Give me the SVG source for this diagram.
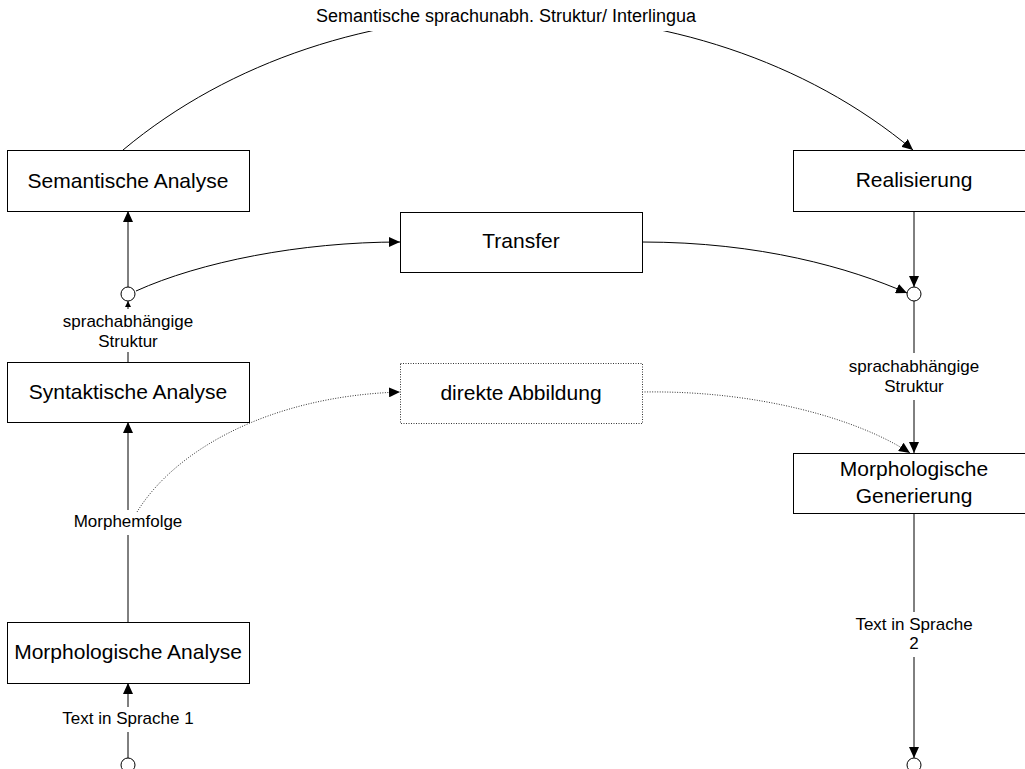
<svg xmlns="http://www.w3.org/2000/svg" width="1025" height="769" viewBox="0 0 1025 769">
<style>
.box{fill:#fff;stroke:#000;stroke-width:1}
.dbox{fill:#fff;stroke:#333;stroke-width:1;stroke-dasharray:1 1.5}
.t{font-family:"Liberation Sans",Arial,sans-serif;font-size:21px;fill:#000;text-anchor:middle}
.lbl{font-family:"Liberation Sans",Arial,sans-serif;font-size:17px;fill:#000;text-anchor:middle}
.c{fill:none;stroke:#000;stroke-width:1}
.d{fill:none;stroke:#333;stroke-width:1;stroke-dasharray:1 1.5}
.circ{fill:#fff;stroke:#000;stroke-width:1}
</style>
<defs>
<marker id="arr" viewBox="0 0 11 10" refX="11" refY="5" markerWidth="11" markerHeight="10" markerUnits="userSpaceOnUse" orient="auto"><path d="M0,0 L11,5 L0,10 z" fill="#000"/></marker>
<marker id="arrs" viewBox="0 0 6 6" refX="6" refY="3" markerWidth="6" markerHeight="6" markerUnits="userSpaceOnUse" orient="auto"><path d="M0,0 L6,3 L0,6 z" fill="#000"/></marker>
</defs>
<rect width="1025" height="769" fill="#fff"/>
<g id="connectors">
<path class="c" d="M123,150 C338,-30 698,-30 913,150" marker-end="url(#arr)"/>
<rect x="311" y="4" width="392" height="27" fill="#fff"/>
<text class="lbl" x="506" y="22" style="font-size:18px">Semantische sprachunabh. Struktur/ Interlingua</text>
<path class="c" d="M128,287 V211" marker-end="url(#arr)"/>
<path class="c" d="M128,362 V352 M128,309 V301" marker-end="url(#arrs)"/>
<text class="lbl" x="128" y="327">sprachabhängige</text>
<text class="lbl" x="128" y="347">Struktur</text>
<path class="c" d="M128,622 V535 M128,510 V422" marker-end="url(#arr)"/>
<path class="c" d="M128,758 V732 M128,707 V683" marker-end="url(#arr)"/>
<text class="lbl" x="128" y="724">Text in Sprache 1</text>
<path class="c" d="M136,291 C200,262 300,242 400,242" marker-end="url(#arr)"/>
<path class="c" d="M642,242 C760,242 850,268 907,293" marker-end="url(#arr)"/>
<path class="c" d="M914,211 V287" marker-end="url(#arr)"/>
<path class="c" d="M914,301 V353 M914,400 V453" marker-end="url(#arr)"/>
<text class="lbl" x="914" y="372">sprachabhängige</text>
<text class="lbl" x="914" y="392">Struktur</text>
<path class="c" d="M914,513 V612 M914,657 V758" marker-end="url(#arr)"/>
<text class="lbl" x="914" y="630">Text in Sprache</text>
<text class="lbl" x="914" y="649">2</text>
<path class="d" d="M137,512 C175,450 270,396 400,392" marker-end="url(#arr)"/>
<path class="d" d="M642,392 C760,390 860,420 910,453" marker-end="url(#arr)"/>
<text class="lbl" x="128" y="527">Morphemfolge</text>
</g>
<g id="circle-mid-left"><circle class="circ" cx="128" cy="294" r="7"/></g>
<g id="circle-mid-right"><circle class="circ" cx="914" cy="294" r="7"/></g>
<g id="circle-bottom-left"><circle class="circ" cx="128" cy="765" r="7"/></g>
<g id="circle-bottom-right"><circle class="circ" cx="914" cy="765" r="7"/></g>
<g id="semantische-analyse"><rect class="box" x="7.5" y="150.5" width="242" height="61"/><text class="t" x="128" y="188">Semantische Analyse</text></g>
<g id="syntaktische-analyse"><rect class="box" x="7.5" y="362.5" width="242" height="60"/><text class="t" x="128" y="399">Syntaktische Analyse</text></g>
<g id="morphologische-analyse"><rect class="box" x="7.5" y="622.5" width="242" height="61"/><text class="t" x="128" y="659">Morphologische Analyse</text></g>
<g id="transfer"><rect class="box" x="400.5" y="212.5" width="242" height="60"/><text class="t" x="521" y="248">Transfer</text></g>
<g id="direkte-abbildung"><rect class="dbox" x="400.5" y="363.5" width="242" height="60"/><text class="t" x="521" y="400">direkte Abbildung</text></g>
<g id="realisierung"><rect class="box" x="793.5" y="150.5" width="242" height="61"/><text class="t" x="914" y="187">Realisierung</text></g>
<g id="morphologische-generierung"><rect class="box" x="793.5" y="453.5" width="242" height="60"/><text class="t" x="914" y="476">Morphologische</text><text class="t" x="914" y="503">Generierung</text></g>
</svg>
